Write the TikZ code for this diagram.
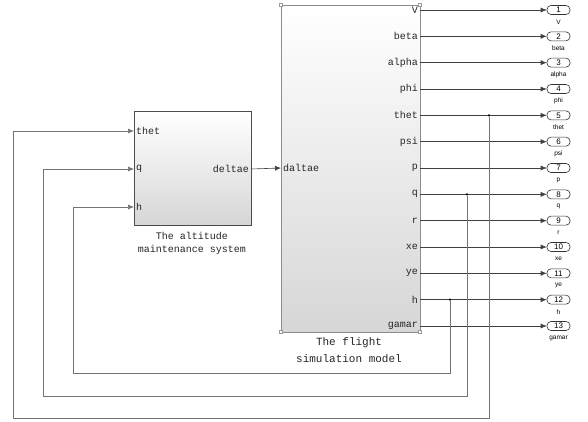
\documentclass[tikz,border=0pt]{standalone}
\usepackage{fontspec}
\setmonofont{Liberation Mono}
\setsansfont{Liberation Sans}
\usetikzlibrary{arrows.meta}
\begin{document}
\begin{tikzpicture}[x=1pt,y=-1pt,
 sig/.style={draw=black!75, line width=0.6pt, -{Latex[length=6pt,width=5pt]}},
 fb/.style={draw=black!55, line width=0.7pt, -{Latex[length=6pt,width=5pt]}},
 blk/.style={rectangle, inner sep=0pt, anchor=north west, top color=white, bottom color=black!16},
 plab/.style={font=\ttfamily\fontsize{10}{10}\selectfont, text=black!85, inner sep=0pt},
 caption/.style={font=\ttfamily\fontsize{10}{13}\selectfont, text=black!85, inner sep=0pt, align=center},
 bigcaption/.style={font=\ttfamily\fontsize{11}{17}\selectfont, text=black!85, inner sep=0pt, align=center},
 oport/.style={draw=black!80, line width=0.6pt, rounded corners=4pt, minimum width=23pt, minimum height=9pt, inner sep=0pt, font=\sffamily\fontsize{8}{8}\selectfont},
 olab/.style={font=\sffamily\fontsize{6.5}{6.5}\selectfont, inner sep=0pt},
 bdot/.style={circle, fill=black, inner sep=0pt, minimum size=2.6pt},
 handle/.style={draw=black!40, fill=white, line width=0.4pt, minimum size=3pt, inner sep=0pt}
]
\useasboundingbox[fill=white] (0,0) rectangle (588,421);

% altitude maintenance block
\node[blk, draw=black!70, line width=0.8pt, minimum width=117pt, minimum height=114pt] (alt) at (134,111) {};
\node[plab, anchor=west] (athet) at (136,131) {thet};
\node[plab, anchor=west] (aq) at (136,169) {q};
\node[plab, anchor=west] (ah) at (136,207) {h};
\node[plab, anchor=east] (adel) at (249,169) {deltae};
\coordinate (ithet) at (134,131);
\coordinate (iq) at (134,169);
\coordinate (ih) at (134,207);
\coordinate (odel) at (251,169);
\node[caption] (altcap) at (192,243.5) {The altitude\\maintenance system};

% flight simulation block
\node[blk, draw=black!45, line width=1.3pt, minimum width=139pt, minimum height=327pt] (fsm) at (281,5) {};
\node[handle] (h1) at (281,5) {};
\node[handle] (h2) at (420,5) {};
\node[handle] (h3) at (281,332) {};
\node[handle] (h4) at (420,332) {};
\node[plab, anchor=west] (fdal) at (283,168) {daltae};
\coordinate (idal) at (281,168);
\node[bigcaption] (fsmcap) at (349,350.5) {The flight\\simulation model};

\draw[sig] (odel) -- (idal);

\foreach \n [count=\i] in {V,beta,alpha,phi,thet,psi,p,q,r,xe,ye,h,gamar} {
  \pgfmathsetmacro\yy{10+26.333*(\i-1)}
  \node[plab, anchor=east] (pl\i) at (418,\yy) {\n};
  \coordinate (src\i) at (420,\yy);
  \node[oport] (op\i) at (558.5,\yy) {\i};
  \node[olab] (ol\i) at (558.5,\yy+12) {\n};
  \draw[sig] (src\i) -- (op\i.west);
}

% branch points
\node[bdot] (b5) at (489,115.33) {};
\node[bdot] (b8) at (467,194.33) {};
\node[bdot] (b12) at (450,299.67) {};

% feedback lines
\draw[fb] (b12) |- (73,373) -- (73,207) -- (ih);
\draw[fb] (b8) |- (43,396) -- (43,169) -- (iq);
\draw[fb] (b5) |- (13,418) -- (13,131) -- (ithet);
\end{tikzpicture}
\end{document}
